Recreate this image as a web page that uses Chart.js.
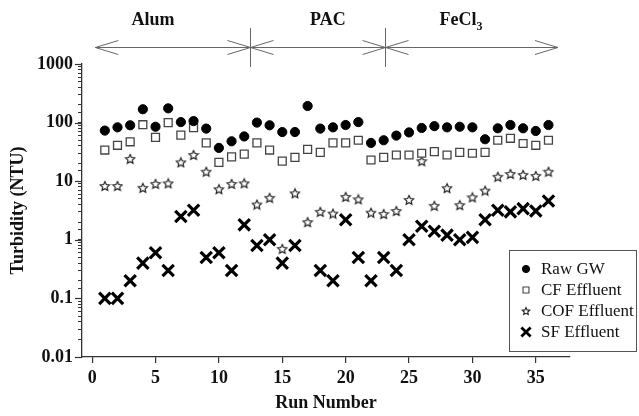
<!DOCTYPE html>
<html>
<head>
<meta charset="utf-8">
<style>
  html, body { margin: 0; padding: 0; background: #fff; }
  #wrap { width: 639px; height: 416px; position: relative; }
</style>
<script src="https://cdn.jsdelivr.net/npm/chart.js@4.4.1/dist/chart.umd.min.js"></script>
</head>
<body>
<div id="wrap"><canvas id="chart" width="639" height="416"></canvas></div>
<script>
// run numbers and turbidity (NTU)
const runs = [1, 2, 3, 4, 5, 6, 7, 8, 9, 10, 11, 12, 13, 14, 15, 16, 17, 18,
              19, 20, 21, 22, 23, 24, 25, 26, 27, 28, 29, 30, 31, 32, 33, 34, 35, 36];
const rawGW = [73, 83, 90, 169, 85, 175, 102, 106, 79, 37, 48, 58, 100, 90, 69, 69, 192, 79,
               83, 91, 102, 45, 50, 60, 68, 81, 87, 83, 85, 83, 52, 80, 91, 80, 72, 91];
const cfEffluent = [34, 41, 47, 92, 56, 100, 61, 82, 45, 21, 26, 29, 45, 34, 22, 25.5, 35, 31,
                    45, 45, 50, 23, 25.5, 28, 28, 30, 32, 28, 31, 30, 31, 50, 54, 44, 41, 50];
const cofEffluent = [8.3, 8.3, 24, 7.7, 9, 9.2, 21, 28, 14.5, 7.3, 9, 9.2, 4.0, 5.2, 0.7, 6.2, 2.0, 3.0,
                     2.8, 5.4, 4.9, 2.9, 2.75, 3.1, 4.8, 22, 3.8, 7.6, 3.9, 5.3, 6.9, 11.9, 13.3, 12.8, 12.3, 14.5];
const sfEffluent = [0.1, 0.1, 0.2, 0.4, 0.6, 0.3, 2.5, 3.2, 0.5, 0.6, 0.3, 1.8, 0.8, 1.0, 0.4, 0.8, null, 0.3,
                    0.2, 2.2, 0.5, 0.2, 0.5, 0.3, 1.0, 1.7, 1.4, 1.2, 1.0, 1.1, 2.2, 3.2, 3.0, 3.4, 3.1, 4.6];

const seriesNames = ['Raw GW', 'CF Effluent', 'COF Effluent', 'SF Effluent'];
const xTicks = [0, 5, 10, 15, 20, 25, 30, 35];
const yTicks = [0.01, 0.1, 1, 10, 100, 1000];

// coagulant phases along the top
const phaseNames = ['Alum', 'PAC', 'FeCl3'];
const phaseBounds = [0.25, 12.45, 23.1, 36.75];
const phaseLabelX = [4.8, 18.6, 29.1];

const FONT = '"Liberation Serif", "Times New Roman", serif';

function toPoints(vals) {
  return runs.map((r, i) => ({ x: r, y: vals[i] })).filter(p => p.y !== null);
}

function starCanvas(size, lw) {
  const c = document.createElement('canvas');
  c.width = c.height = size;
  const g = c.getContext('2d');
  const cx = size / 2, cy = size / 2 + 0.4, R = size / 2 - lw, r = R * 0.48;
  g.beginPath();
  for (let i = 0; i < 10; i++) {
    const a = -Math.PI / 2 + i * Math.PI / 5;
    const rr = i % 2 ? r : R;
    g.lineTo(cx + rr * Math.cos(a), cy + rr * Math.sin(a));
  }
  g.closePath();
  g.fillStyle = '#fff';
  g.fill();
  g.lineWidth = lw;
  g.strokeStyle = '#222';
  g.stroke();
  return c;
}

const star = starCanvas(12, 1.2);
const starSmall = starCanvas(10, 1.1);

const styles = [
  { pointStyle: 'circle', radius: 4.6, bg: '#000', border: '#000', bw: 1 },
  { pointStyle: 'rect', radius: 5.6, bg: '#fff', border: '#444', bw: 1.3 },
  { pointStyle: star, radius: 6, bg: '#fff', border: '#222', bw: 1 },
  { pointStyle: 'crossRot', radius: 8, bg: '#000', border: '#000', bw: 3.2 }
];
const seriesData = [rawGW, cfEffluent, cofEffluent, sfEffluent];

const phasePlugin = {
  id: 'phases',
  afterDraw(chart) {
    const ctx = chart.ctx, x = chart.scales.x, y = chart.scales.y, a = chart.chartArea;
    ctx.save();

    // longer major ticks on the log axis
    ctx.strokeStyle = '#333';
    ctx.lineWidth = 1.2;
    yTicks.forEach(v => {
      const p = Math.round(y.getPixelForValue(v)) + 0.5;
      ctx.beginPath();
      ctx.moveTo(a.left - 7, p);
      ctx.lineTo(a.left, p);
      ctx.stroke();
    });

    // arrows
    const ly = 47.5, hw = 23, hh = 7;
    const xs = phaseBounds.map(v => x.getPixelForValue(v));
    ctx.strokeStyle = '#666';
    ctx.lineWidth = 1;
    ctx.beginPath();
    ctx.moveTo(xs[0], ly); ctx.lineTo(xs[3], ly);
    // outer heads
    ctx.moveTo(xs[0] + hw, ly - hh); ctx.lineTo(xs[0], ly); ctx.lineTo(xs[0] + hw, ly + hh);
    ctx.moveTo(xs[3] - hw, ly - hh); ctx.lineTo(xs[3], ly); ctx.lineTo(xs[3] - hw, ly + hh);
    // inner separators
    for (let i = 1; i < 3; i++) {
      const b = Math.round(xs[i]) + 0.5;
      ctx.moveTo(b - hw, ly - hh); ctx.lineTo(b + hw, ly + hh);
      ctx.moveTo(b - hw, ly + hh); ctx.lineTo(b + hw, ly - hh);
      ctx.moveTo(b, 28); ctx.lineTo(b, 67);
    }
    ctx.stroke();

    // phase labels
    ctx.fillStyle = '#111';
    ctx.textBaseline = 'alphabetic';
    phaseNames.forEach((name, i) => {
      const cx = x.getPixelForValue(phaseLabelX[i]);
      const base = 25;
      if (name === 'FeCl3') {
        ctx.font = 'bold 18px ' + FONT;
        const w1 = ctx.measureText('FeCl').width;
        ctx.font = 'bold 12px ' + FONT;
        const w2 = ctx.measureText('3').width;
        const left = cx - (w1 + w2) / 2;
        ctx.font = 'bold 18px ' + FONT;
        ctx.textAlign = 'left';
        ctx.fillText('FeCl', left, base);
        ctx.font = 'bold 12px ' + FONT;
        ctx.fillText('3', left + w1, base + 5);
      } else {
        ctx.font = 'bold 18px ' + FONT;
        ctx.textAlign = 'center';
        ctx.fillText(name, cx, base);
      }
    });

    // legend box
    const bx = 509.5, by = 250.5, bw = 127, bh = 101;
    ctx.fillStyle = '#fff';
    ctx.fillRect(bx, by, bw, bh);
    ctx.strokeStyle = '#555';
    ctx.lineWidth = 1;
    ctx.strokeRect(bx, by, bw, bh);
    const legSizes = [3.6, 4.2, 5, 6.5];
    const legWidths = [1, 1.1, 1, 2.8];
    seriesNames.forEach((name, i) => {
      const yy = 269 + i * 21;
      const st = styles[i];
      ctx.fillStyle = st.bg;
      ctx.strokeStyle = st.border;
      ctx.lineWidth = legWidths[i];
      Chart.helpers.drawPoint(ctx, {
        pointStyle: i === 2 ? starSmall : st.pointStyle,
        radius: legSizes[i],
        rotation: 0,
        borderWidth: legWidths[i]
      }, 526, yy);
      ctx.fillStyle = '#111';
      ctx.font = '17px ' + FONT;
      ctx.textAlign = 'left';
      ctx.textBaseline = 'middle';
      ctx.fillText(name, 541, yy + 1);
    });
    ctx.restore();
  }
};

new Chart(document.getElementById('chart'), {
  type: 'scatter',
  data: {
    datasets: seriesNames.map((name, i) => ({
      label: name,
      data: toPoints(seriesData[i]),
      pointStyle: styles[i].pointStyle,
      pointRadius: styles[i].radius,
      pointBackgroundColor: styles[i].bg,
      pointBorderColor: styles[i].border,
      pointBorderWidth: styles[i].bw,
      showLine: false
    }))
  },
  options: {
    responsive: false,
    animation: false,
    layout: { padding: { top: 64, right: 69, left: 0, bottom: 0 } },
    plugins: {
      legend: { display: false },
      tooltip: { enabled: false }
    },
    scales: {
      x: {
        type: 'linear',
        min: -0.8,
        max: 37.7,
        afterBuildTicks: s => { s.ticks = xTicks.map(v => ({ value: v })); },
        afterFit: s => { s.height = 59; },
        ticks: {
          font: { family: FONT, size: 18, weight: 'bold' },
          color: '#111',
          padding: 5,
          maxRotation: 0,
          autoSkip: false
        },
        grid: { drawOnChartArea: false, tickLength: 6, color: '#333', lineWidth: 1.2 },
        border: { color: '#333', width: 1.3 },
        title: {
          display: true,
          text: 'Run Number',
          color: '#111',
          font: { family: FONT, size: 18, weight: 'bold' },
          padding: { top: 0, bottom: 2 }
        }
      },
      y: {
        type: 'logarithmic',
        min: 0.01,
        max: 1000,
        afterFit: s => { s.width = 82; },
        ticks: {
          autoSkip: false,
          font: { family: FONT, size: 18, weight: 'bold' },
          color: '#111',
          padding: 5,
          callback: v => {
            const l = Math.log10(v);
            if (Math.abs(l - Math.round(l)) > 1e-6) return '';
            const e = Math.round(l);
            return e >= 0 ? String(Math.pow(10, e)) : Math.pow(10, e).toFixed(-e);
          }
        },
        grid: { drawOnChartArea: false, tickLength: 4, color: '#333', lineWidth: 1 },
        border: { color: '#333', width: 1.3 },
        title: {
          display: true,
          text: 'Turbidity (NTU)',
          color: '#111',
          font: { family: FONT, size: 18, weight: 'bold' },
          padding: { top: 8, bottom: 0 }
        }
      }
    }
  },
  plugins: [phasePlugin]
});
</script>
</body>
</html>
